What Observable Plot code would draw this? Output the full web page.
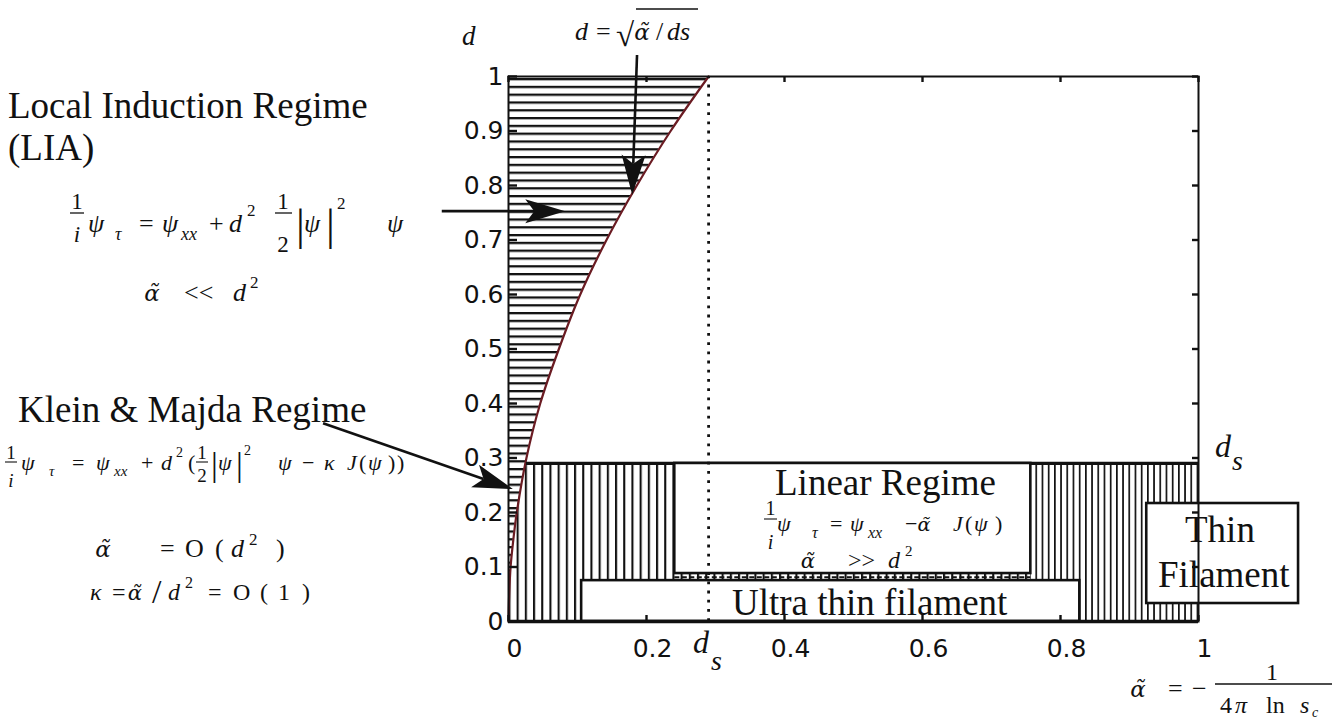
<!DOCTYPE html>
<html><head><meta charset="utf-8">
<script src="https://cdn.jsdelivr.net/npm/d3@7"></script>
<script src="https://cdn.jsdelivr.net/npm/@observablehq/plot@0.6"></script>
<style>body{margin:0;background:#fff;} svg{display:block}</style>
</head><body><div id="chart"></div>
<script>
// ---------- data ----------
const ds = 0.29;                                   // d_s
const curveD     = [0, 0.05, 0.1, 0.15, 0.2, 0.3, 0.4, 0.5, 0.6, 0.7, 0.8, 0.9, 1];
const curveAlpha = [0, 0.001, 0.003, 0.007, 0.012, 0.026, 0.046, 0.073, 0.104, 0.142, 0.186, 0.235, 0.29];
const xTicks = [0, 0.2, 0.4, 0.6, 0.8, 1];
const xTickLabels = ["0", "0.2", "0.4", "0.6", "0.8", "1"];
const yTicks = [0, 0.1, 0.2, 0.3, 0.4, 0.5, 0.6, 0.7, 0.8, 0.9, 1];
const yTickLabels = ["0", "0.1", "0.2", "0.3", "0.4", "0.5", "0.6", "0.7", "0.8", "0.9", "1"];
const boxNames = ["Linear Regime", "Ultra thin filament", "Thin Filament"];
const boxX1 = [0.241, 0.106, 0.925];
const boxX2 = [0.757, 0.828, 1.145];
const boxY1 = [0.088, 0, 0.033];
const boxY2 = [0.29, 0.075, 0.2165];
const dashY = 0.081;          // dashed line under the linear-regime box
const hatchSplitX = 0.757;    // denser vertical hatching to the right
const arrowX1 = [0.187, -0.096, -0.268];
const arrowY1 = [1.0385, 0.752, 0.363];
const arrowX2 = [0.180, 0.083, 0.007];
const arrowY2 = [0.782, 0.752, 0.242];

const curveRows = curveD.map((d, i) => ({d, alpha: curveAlpha[i]}));
const boxRows = boxNames.map((name, i) => ({name, x1: boxX1[i], x2: boxX2[i], y1: boxY1[i], y2: boxY2[i]}));
const arrowRows = arrowX1.map((x, i) => ({x1: x, y1: arrowY1[i], x2: arrowX2[i], y2: arrowY2[i]}));
const xLab = new Map(xTicks.map((t, i) => [t, xTickLabels[i]]));
const yLab = new Map(yTicks.map((t, i) => [t, yTickLabels[i]]));

const SERIF = "'Liberation Serif','Times New Roman',serif";
const INK = "#111";

// ---------- hatch pattern definitions ----------
const defsMark = () => {
  const defs = d3.create("svg:defs");
  const hh = defs.append("pattern").attr("id", "hhatch").attr("patternUnits", "userSpaceOnUse")
    .attr("width", 10).attr("height", 7.8);
  hh.append("rect").attr("width", 10).attr("height", 7.8).attr("fill", "white");
  hh.append("rect").attr("y", 0).attr("width", 10).attr("height", 2.3).attr("fill", INK);
  const va = defs.append("pattern").attr("id", "vhatchA").attr("patternUnits", "userSpaceOnUse")
    .attr("width", 8.2).attr("height", 10);
  va.append("rect").attr("width", 8.2).attr("height", 10).attr("fill", "white");
  va.append("rect").attr("x", 0).attr("width", 2.1).attr("height", 10).attr("fill", INK);
  const vb = defs.append("pattern").attr("id", "vhatchB").attr("patternUnits", "userSpaceOnUse")
    .attr("width", 6.2).attr("height", 10);
  vb.append("rect").attr("width", 6.2).attr("height", 10).attr("fill", "white");
  vb.append("rect").attr("x", 0).attr("width", 1.7).attr("height", 10).attr("fill", INK);
  return defs.node();
};

// ---------- arrows with filled, notched heads ----------
const arrowMark = (index, scales) => {
  const g = d3.create("svg:g").attr("fill", INK).attr("stroke", INK);
  for (const a of arrowRows) {
    const x1 = scales.x(a.x1), y1 = scales.y(a.y1), x2 = scales.x(a.x2), y2 = scales.y(a.y2);
    const L = Math.hypot(x2 - x1, y2 - y1), ux = (x2 - x1) / L, uy = (y2 - y1) / L;
    const nx = -uy, ny = ux, hl = 40, hw = 12, notch = 31;
    g.append("line").attr("x1", x1).attr("y1", y1)
      .attr("x2", x2 - ux * notch).attr("y2", y2 - uy * notch).attr("stroke-width", 2.6);
    const bx = x2 - ux * hl, by = y2 - uy * hl;
    g.append("path").attr("stroke", "none").attr("d",
      `M${x2},${y2}L${bx + nx * hw},${by + ny * hw}L${x2 - ux * notch},${y2 - uy * notch}L${bx - nx * hw},${by - ny * hw}Z`);
  }
  return g.node();
};

// ---------- text annotations ----------
const annMark = (index, scales) => {
  const g = d3.create("svg:g").attr("font-family", SERIF).attr("fill", INK);
  const T = (x, y, s, size, it, anchor) => g.append("text").attr("x", x).attr("y", y)
    .attr("font-size", size).attr("font-style", it ? "italic" : null)
    .attr("text-anchor", anchor || "start").text(s);
  // alpha with tilde: DejaVu Serif places the combining tilde over the alpha
  const A = (x, y, size) => g.append("text").attr("x", x).attr("y", y)
    .attr("font-size", size * 0.88).attr("font-style", "italic")
    .attr("font-family", "'DejaVu Serif', serif").text("\u03b1\u0303");
  const bar = (x1, x2, y, w = 1.3) => g.append("line").attr("x1", x1).attr("x2", x2)
    .attr("y1", y).attr("y2", y).attr("stroke", INK).attr("stroke-width", w);

  // axis label d
  T(462, 45, "d", 27, 1);
  // top formula d = sqrt(alpha/ds)
  T(575, 40, "d", 26, 1); T(596, 40, "=", 26);
  T(616, 46, "\u221a", 33); bar(636, 698, 9, 1.5);
  A(642, 40, 26); T(656, 40, "/", 26); T(667, 40, "ds", 26, 1);

  // Local induction regime block
  T(8, 118, "Local Induction Regime", 37); T(8, 160, "(LIA)", 37);
  T(77, 209, "1", 23, 0, "middle"); bar(70, 84, 213); T(77, 242, "i", 23, 1, "middle");
  T(88, 232, "\u03c8", 26, 1); T(115, 240, "\u03c4", 18, 1);
  T(139, 232, "=", 26); T(162, 232, "\u03c8", 26, 1); T(181, 240, "xx", 18, 1);
  T(209, 232, "+", 26); T(229, 232, "d", 26, 1); T(247, 216, "2", 17);
  T(283, 209, "1", 23, 0, "middle"); bar(275, 292, 213); T(283, 252, "2", 23, 0, "middle");
  T(296, 240, "|", 44); T(304, 232, "\u03c8", 26, 1); T(326, 240, "|", 44); T(337, 209, "2", 17);
  T(387, 232, "\u03c8", 26, 1);
  A(152, 301, 26); T(184, 301, "<<", 26); T(233, 301, "d", 26, 1); T(250, 288, "2", 17);

  // Klein & Majda block
  T(18, 422, "Klein & Majda Regime", 37);
  T(11, 459, "1", 19, 0, "middle"); bar(5, 17, 462, 1.1); T(11, 487, "i", 19, 1, "middle");
  T(21, 470, "\u03c8", 22, 1); T(49, 476, "\u03c4", 15, 1);
  T(72, 470, "=", 22); T(96, 470, "\u03c8", 22, 1); T(114, 476, "xx", 15, 1);
  T(141, 470, "+", 22); T(161, 470, "d", 22, 1); T(176, 457, "2", 14);
  T(188, 470, "(", 22);
  T(202, 459, "1", 19, 0, "middle"); bar(196, 208, 462, 1.1); T(202, 482, "2", 19, 0, "middle");
  T(211, 476, "|", 34); T(218, 470, "\u03c8", 22, 1); T(236, 476, "|", 34); T(244, 455, "2", 14);
  T(278, 470, "\u03c8", 22, 1); T(302, 470, "\u2212", 22); T(324, 470, "\u03ba", 22, 1);
  T(347, 470, "J", 22, 1); T(359, 470, "(", 22); T(368, 470, "\u03c8", 22, 1);
  T(388, 470, ")", 22); T(397, 470, ")", 22);
  A(103, 557, 26); T(160, 557, "=", 26); T(185, 557, "O", 26); T(215, 557, "(", 26);
  T(231, 557, "d", 26, 1); T(249, 545, "2", 17); T(276, 557, ")", 26);
  T(90, 600, "\u03ba", 24, 1); T(112, 600, "=", 24); A(135, 600, 24); T(152, 603, "/", 34);
  T(168, 600, "d", 24, 1); T(185, 588, "2", 16); T(208, 600, "=", 24);
  T(233, 600, "O", 24); T(260, 600, "(", 24); T(278, 600, "1", 24); T(302, 600, ")", 24);

  // Linear regime box text
  T(775, 495, "Linear Regime", 37);
  T(770.5, 515, "1", 20, 0, "middle"); bar(764, 777, 519, 1.1); T(770.5, 549, "i", 20, 1, "middle");
  T(777, 531, "\u03c8", 22, 1); T(812, 538, "\u03c4", 16, 1); T(830, 531, "=", 22);
  T(850, 531, "\u03c8", 22, 1); T(868, 538, "xx", 16, 1); T(905, 531, "\u2212", 22);
  A(924, 531, 22);
  T(953, 531, "J", 22, 1); T(965, 531, "(", 22); T(974, 531, "\u03c8", 22, 1); T(995, 531, ")", 22);
  A(808, 568, 24); T(848, 568, ">>", 24); T(888, 568, "d", 24, 1); T(905, 556, "2", 15);

  // Other box labels
  T(732, 615, "Ultra thin filament", 37);
  T(1185, 542, "Thin", 37); T(1158, 587, "Filament", 37);

  // d_s markers tied to the scales
  const bx = scales.x(ds), by0 = scales.y(0);
  T(bx - 15, by0 + 32, "d", 32, 1); T(bx + 3, by0 + 49, "s", 28, 1);
  const rx = scales.x(1), ry = scales.y(ds);
  T(rx + 17, ry - 6, "d", 32, 1); T(rx + 34, ry + 7, "s", 28, 1);

  // alpha definition below the x axis
  A(1138, 697, 26); T(1168, 697, "=", 26); T(1192, 697, "\u2212", 26);
  T(1272, 680, "1", 24, 0, "middle"); bar(1215, 1332, 684, 1.4);
  T(1220, 713, "4", 24); T(1235, 713, "\u03c0", 24, 1); T(1266, 713, "ln", 24);
  T(1300, 713, "s", 24, 1); T(1312, 717, "c", 14, 1);
  return g.node();
};

const plot = Plot.plot({
  width: 1344, height: 722,
  marginLeft: 508, marginRight: 146, marginTop: 76, marginBottom: 101,
  x: {domain: [0, 1]}, y: {domain: [0, 1]},
  style: {fontFamily: "'DejaVu Sans', sans-serif", fontSize: "25px", background: "white", color: "#111", overflow: "visible"},
  marks: [
    defsMark,
    // vertical hatching in the thin-filament band
    Plot.rect([0], {x1: 0, x2: hatchSplitX, y1: 0, y2: ds, fill: "url(#vhatchA)"}),
    Plot.rect([0], {x1: hatchSplitX, x2: 1, y1: 0, y2: ds, fill: "url(#vhatchB)"}),
    // horizontal hatching left of the curve d = sqrt(alpha/ds)
    Plot.areaX(curveRows, {y: "d", x1: 0, x2: "alpha", fill: "url(#hhatch)", curve: "catmull-rom"}),
    Plot.line(curveRows, {x: "alpha", y: "d", stroke: "#6a1b22", strokeWidth: 2.2, curve: "catmull-rom"}),
    Plot.ruleY([ds], {x1: curveAlpha[5], x2: 1, stroke: INK, strokeWidth: 3.2}),
    // regime boxes
    Plot.rect(boxRows, {x1: "x1", x2: "x2", y1: "y1", y2: "y2", fill: "white", stroke: INK, strokeWidth: 2.6}),
    Plot.ruleY([dashY], {x1: boxX1[0], x2: boxX2[0], stroke: INK, strokeWidth: 2, strokeDasharray: "5,2.5"}),
    // dotted d_s line
    Plot.ruleX([ds], {y1: 0, y2: 1, stroke: INK, strokeWidth: 2.8, strokeDasharray: "2.8,6.4"}),
    // frame and inward ticks
    Plot.frame({stroke: INK, strokeWidth: 2}),
    Plot.ruleY([0], {stroke: INK, strokeWidth: 3.6}),
    Plot.ruleY(yTicks, {y: d => d, x1: 0, x2: 0, insetRight: -9, stroke: INK, strokeWidth: 2.4}),
    Plot.ruleY(yTicks, {y: d => d, x1: 1, x2: 1, insetLeft: -6, stroke: INK, strokeWidth: 2.4}),
    Plot.ruleX(xTicks, {x: d => d, y1: 1, y2: 1, insetBottom: -6, stroke: INK, strokeWidth: 2.4}),
    Plot.ruleX(xTicks, {x: d => d, y1: 0, y2: 0, insetTop: -6, stroke: INK, strokeWidth: 2.4}),
    Plot.axisY(yTicks, {tickSize: 0, tickPadding: 5, tickFormat: d => yLab.get(d), label: null}),
    Plot.axisX(xTicks, {tickSize: 0, tickPadding: 18, dx: 6, tickFormat: d => xLab.get(d), label: null}),
    arrowMark,
    annMark
  ]
});
document.getElementById("chart").append(plot);
</script>
</body></html>
